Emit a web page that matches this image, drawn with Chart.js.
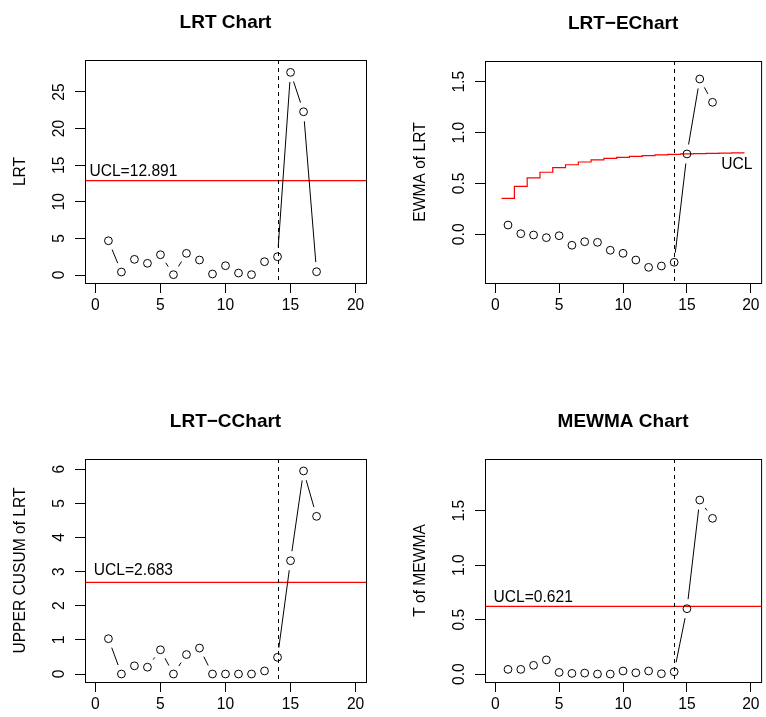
<!DOCTYPE html>
<html>
<head>
<meta charset="utf-8">
<script src="https://cdn.jsdelivr.net/npm/chart.js@4.4.1/dist/chart.umd.min.js"></script>
<style>
  html, body { margin: 0; padding: 0; background: #ffffff; }
  #page { position: relative; width: 766px; height: 717px; overflow: hidden; background: #ffffff; }
  #page canvas { position: absolute; }
</style>
</head>
<body>
<div id="page">
  <canvas id="cLRT" width="383" height="358" style="left:0px;top:0px"></canvas>
  <canvas id="cEWMA" width="383" height="358" style="left:383px;top:0px"></canvas>
  <canvas id="cCUSUM" width="383" height="359" style="left:0px;top:358px"></canvas>
  <canvas id="cMEWMA" width="383" height="359" style="left:383px;top:358px"></canvas>
</div>
<script>
// Sample index (time order) of the monitored observations
const samples = [1, 2, 3, 4, 5, 6, 7, 8, 9, 10, 11, 12, 13, 14, 15, 16, 17];

// Likelihood-ratio statistic per sample
const lrtValues = [4.68, 0.41, 2.14, 1.60, 2.77, 0.05, 2.96, 2.05, 0.14, 1.27, 0.27, 0.05, 1.82, 2.50, 27.68, 22.30, 0.45];
// EWMA of the LRT statistic
const ewmaValues = [0.091, 0.006, -0.007, -0.033, -0.014, -0.108, -0.073, -0.079, -0.157, -0.187, -0.253, -0.325, -0.312, -0.275, 0.790, 1.527, 1.298];
// Upper CUSUM of the LRT statistic
const cusumValues = [1.035, 0.0, 0.24, 0.20, 0.71, 0.0, 0.57, 0.76, 0.0, 0.0, 0.0, 0.0, 0.09, 0.49, 3.32, 5.95, 4.62];
// MEWMA statistic
const mewmaValues = [0.043, 0.043, 0.080, 0.130, 0.015, 0.006, 0.009, 0.0, 0.0, 0.028, 0.012, 0.028, 0.003, 0.021, 0.600, 1.598, 1.430];

// Time-varying EWMA control limit, one level per sample 1..19
const ewmaUclLimits = [0.354, 0.472, 0.554, 0.610, 0.655, 0.684, 0.711, 0.731, 0.747, 0.757, 0.767, 0.773, 0.780, 0.786, 0.790, 0.793, 0.796, 0.799, 0.800];

// Constant control limits
const lrtUcl = 12.891;
const cusumUcl = 2.683;
const mewmaUcl = 0.621;

// Sample at which the process shift starts
const changePoint = 14;

// Axis tick values
const xTicks = [0, 5, 10, 15, 20];
const lrtTicks = [0, 5, 10, 15, 20, 25];
const ewmaTicks = [0, 0.5, 1.0, 1.5];
const cusumTicks = [0, 1, 2, 3, 4, 5, 6];
const mewmaTicks = [0, 0.5, 1.0, 1.5];

const FONT = "'Liberation Sans', Arial, Helvetica, sans-serif";
const TXT = '15.6px ' + FONT;
const TITLE = 'bold 19px ' + FONT;
const GAP = 9.6; // blank space left around each point by the connecting segments

// Step polyline for the EWMA limit: each level spans sample i-0.5 .. i+0.5
const ewmaUclSteps = ewmaUclLimits.map((u, i) => ({ x: i + 0.5, y: u }))
  .concat([{ x: ewmaUclLimits.length + 0.5, y: ewmaUclLimits[ewmaUclLimits.length - 1] }]);

const panels = [
  { id: 'cLRT', title: 'LRT Chart', ylab: 'LRT', values: lrtValues, yTicks: lrtTicks, yDigits: 0,
    yMin: -1.09, yMax: 29.37, box: { l: 85, r: 366, t: 60, b: 283 },
    ucl: lrtUcl, label: 'UCL=' + lrtUcl.toFixed(3), labelX: -0.46, labelLift: 4.3, labelAlign: 'left' },
  { id: 'cEWMA', title: 'LRT\u2212EChart', ylab: 'EWMA of LRT', values: ewmaValues, yTicks: ewmaTicks, yDigits: 1,
    yMin: -0.479, yMax: 1.704, box: { l: 102, r: 382, t: 61, b: 283 },
    steps: ewmaUclSteps, label: 'UCL', labelX: 18.9, labelLift: -16, labelAlign: 'center',
    labelRef: ewmaUclLimits[ewmaUclLimits.length - 1] },
  { id: 'cCUSUM', title: 'LRT\u2212CChart', ylab: 'UPPER CUSUM of LRT', values: cusumValues, yTicks: cusumTicks, yDigits: 0,
    yMin: -0.234, yMax: 6.30, box: { l: 85, r: 366, t: 101, b: 324 },
    ucl: cusumUcl, label: 'UCL=' + cusumUcl.toFixed(3), labelX: -0.13, labelLift: 7, labelAlign: 'left' },
  { id: 'cMEWMA', title: 'MEWMA Chart', ylab: 'T of MEWMA', values: mewmaValues, yTicks: mewmaTicks, yDigits: 1,
    yMin: -0.073, yMax: 1.975, box: { l: 102, r: 382, t: 101, b: 324 },
    ucl: mewmaUcl, label: 'UCL=' + mewmaUcl.toFixed(3), labelX: -0.13, labelLift: 4.6, labelAlign: 'left' }
];

function decor(p) {
  return {
    id: 'decor',
    beforeDatasetsDraw(chart) {
      const { ctx, chartArea: a, scales: { x, y } } = chart;
      ctx.save();
      ctx.beginPath();
      ctx.rect(a.left, a.top, a.right - a.left, a.bottom - a.top);
      ctx.clip();
      if (p.ucl !== undefined) {
        const yy = y.getPixelForValue(p.ucl);
        ctx.strokeStyle = '#ff0000';
        ctx.lineWidth = 1.3;
        ctx.beginPath();
        ctx.moveTo(a.left, yy);
        ctx.lineTo(a.right, yy);
        ctx.stroke();
      }
      const xx = Math.round(x.getPixelForValue(changePoint)) + 0.5;
      ctx.strokeStyle = '#000000';
      ctx.lineWidth = 1;
      ctx.setLineDash([4, 4]);
      ctx.beginPath();
      ctx.moveTo(xx, a.top);
      ctx.lineTo(xx, a.bottom);
      ctx.stroke();
      ctx.restore();
    },
    afterDatasetsDraw(chart) {
      const ctx = chart.ctx;
      const pts = chart.getDatasetMeta(0).data;
      ctx.save();
      ctx.strokeStyle = '#000000';
      ctx.lineWidth = 1;
      ctx.beginPath();
      for (let i = 1; i < pts.length; i++) {
        const a = pts[i - 1], b = pts[i];
        const dx = b.x - a.x, dy = b.y - a.y;
        const len = Math.hypot(dx, dy);
        if (len <= 2 * GAP) continue;
        const ux = dx / len, uy = dy / len;
        ctx.moveTo(a.x + ux * GAP, a.y + uy * GAP);
        ctx.lineTo(b.x - ux * GAP, b.y - uy * GAP);
      }
      ctx.stroke();
      ctx.restore();
    },
    afterDraw(chart) {
      const { ctx, chartArea: a, scales: { x, y } } = chart;
      ctx.save();
      // plot frame
      ctx.strokeStyle = '#000000';
      ctx.lineWidth = 1;
      ctx.strokeRect(a.left + 0.5, a.top + 0.5, a.right - a.left, a.bottom - a.top);

      ctx.fillStyle = '#000000';
      // title
      ctx.font = TITLE;
      ctx.textAlign = 'center';
      ctx.textBaseline = 'alphabetic';
      ctx.fillText(p.title, (a.left + a.right) / 2, a.top - 32);

      // x tick labels
      ctx.font = TXT;
      xTicks.forEach(v => ctx.fillText(String(v), x.getPixelForValue(v), a.bottom + 27));

      // y tick labels and y title, written upwards
      p.yTicks.forEach(v => {
        ctx.save();
        ctx.translate(a.left - 21.5, y.getPixelForValue(v));
        ctx.rotate(-Math.PI / 2);
        ctx.fillText(v.toFixed(p.yDigits), 0, 0);
        ctx.restore();
      });
      ctx.save();
      ctx.translate(a.left - 60, (a.top + a.bottom) / 2);
      ctx.rotate(-Math.PI / 2);
      ctx.fillText(p.ylab, 0, 0);
      ctx.restore();

      // control limit label
      const ref = p.ucl !== undefined ? p.ucl : p.labelRef;
      ctx.textAlign = p.labelAlign;
      ctx.fillText(p.label, x.getPixelForValue(p.labelX), y.getPixelForValue(ref) - p.labelLift);
      ctx.restore();
    }
  };
}

panels.forEach(p => {
  const canvas = document.getElementById(p.id);
  const W = canvas.width, H = canvas.height;
  const datasets = [{
    data: samples.map((s, i) => ({ x: s, y: p.values[i] })),
    showLine: false,
    pointStyle: 'circle',
    pointRadius: 3.9,
    pointHoverRadius: 3.9,
    pointBorderWidth: 1,
    pointBorderColor: '#000000',
    pointBackgroundColor: 'rgba(0,0,0,0)'
  }];
  if (p.steps) {
    datasets.push({
      data: p.steps,
      showLine: true,
      stepped: 'before',
      borderColor: '#ff0000',
      borderWidth: 1.2,
      pointRadius: 0,
      pointHoverRadius: 0,
      fill: false
    });
  }
  const axisBase = {
    type: 'linear',
    grid: { drawOnChartArea: false, drawTicks: true, tickLength: 10, color: '#000000', lineWidth: 1 },
    border: { display: false },
    ticks: { display: false }
  };
  new Chart(canvas.getContext('2d'), {
    type: 'scatter',
    data: { datasets },
    options: {
      responsive: false,
      animation: false,
      devicePixelRatio: 1,
      events: [],
      layout: { padding: { top: p.box.t, right: W - p.box.r, bottom: 0, left: 0 } },
      plugins: { legend: { display: false }, tooltip: { enabled: false }, title: { display: false } },
      scales: {
        x: Object.assign({}, axisBase, {
          position: 'bottom', min: -0.8, max: 20.8,
          afterBuildTicks: s => { s.ticks = xTicks.map(v => ({ value: v })); },
          afterFit: s => { s.height = H - p.box.b; }
        }),
        y: Object.assign({}, axisBase, {
          position: 'left', min: p.yMin, max: p.yMax,
          afterBuildTicks: s => { s.ticks = p.yTicks.map(v => ({ value: v })); },
          afterFit: s => { s.width = p.box.l; }
        })
      }
    },
    plugins: [decor(p)]
  });
});
</script>
</body>
</html>
